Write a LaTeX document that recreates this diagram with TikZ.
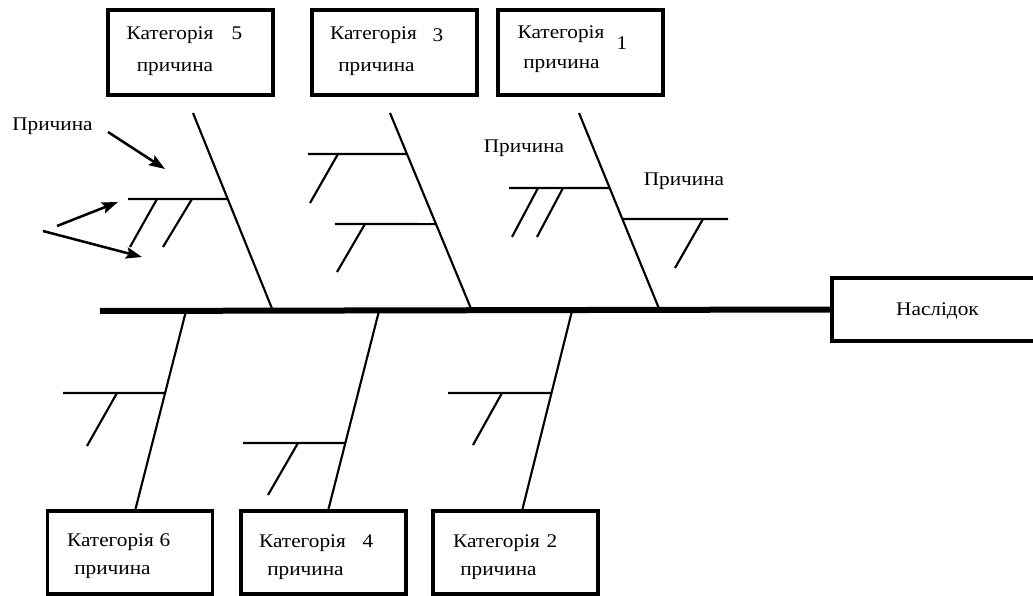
\documentclass[tikz,border=0pt]{standalone}
\usepackage{fontspec}
\setmainfont{Liberation Serif}[FakeStretch=1.1]
\usetikzlibrary{arrows.meta,calc}
\begin{document}
\begin{tikzpicture}[x=0.75pt,y=-0.75pt,
  catbox/.style={draw,line width=2.9pt,minimum width=123.75pt,minimum height=63.75pt,inner sep=0pt},
  effbox/.style={draw,line width=2.4pt,minimum width=153pt,minimum height=47.25pt,inner sep=0pt,font=\fontsize{14}{16}\selectfont},
  lbl/.style={inner sep=0pt,anchor=base,font=\fontsize{14.5}{16}\selectfont},
  spine/.style={line width=4.5pt},
  bone/.style={line width=1.6pt},
  arr/.style={line width=1.9pt,-{Stealth[length=12pt,width=8.5pt,inset=2pt]}}]
\useasboundingbox (0,0) rectangle (1033,596);
\clip (0,0) rectangle (1033,596);

% boxes
\node[catbox] (c5) at (190.5,52.5) {};
\node[catbox] (c3) at (394.5,52.5) {};
\node[catbox] (c1) at (580.5,52.5) {};
\node[catbox,minimum height=62.25pt] (c6) at (130,552.5) {};
\node[catbox,minimum height=62.25pt] (c4) at (323.5,552.5) {};
\node[catbox,minimum height=62.25pt] (c2) at (515.5,552.5) {};
\node[effbox] (eff) at (934,309.5) {};
\node[lbl] (effT) at (937.5,315) {Наслідок};

% texts in top boxes
\node[lbl] (c5a) at (170,40) {Категорія};
\node[lbl] (c5n) at (237,40) {5};
\node[lbl] (c5b) at (175,71) {причина};
\node[lbl] (c3a) at (373.5,40) {Категорія};
\node[lbl] (c3n) at (438,41) {3};
\node[lbl] (c3b) at (376.5,71) {причина};
\node[lbl] (c1a) at (561,38) {Категорія};
\node[lbl] (c1n) at (622,49) {1};
\node[lbl] (c1b) at (561.5,68) {причина};
% texts in bottom boxes
\node[lbl] (c6a) at (110.5,546) {Категорія};
\node[lbl] (c6n) at (165,546) {6};
\node[lbl] (c6b) at (112.5,574) {причина};
\node[lbl] (c4a) at (302.5,547) {Категорія};
\node[lbl] (c4n) at (368,547) {4};
\node[lbl] (c4b) at (305.5,575) {причина};
\node[lbl] (c2a) at (496.5,547) {Категорія};
\node[lbl] (c2n) at (552,547) {2};
\node[lbl] (c2b) at (498.5,575) {причина};

% cause labels
\node[lbl] (p1) at (52.5,130) {Причина};
\node[lbl] (p2) at (524,152) {Причина};
\node[lbl] (p3) at (684,185) {Причина};

% spine
\coordinate (sL) at (100,311);
\draw[spine] (sL) -- (eff.west);

% top bones
\coordinate (b5t) at (193,113); \coordinate (b5b) at (273,311);
\coordinate (b3t) at (390,113); \coordinate (b3b) at (472,311);
\coordinate (b1t) at (579,113); \coordinate (b1b) at (660,311);
\draw[bone] (b5t) -- (b5b);
\draw[bone] (b3t) -- (b3b);
\draw[bone] (b1t) -- (b1b);
% bottom bones
\coordinate (b6t) at (186,311); \coordinate (b6b) at (135,511);
\coordinate (b4t) at (379,311); \coordinate (b4b) at (328,511);
\coordinate (b2t) at (572,311); \coordinate (b2b) at (522,511);
\draw[bone] (b6t) -- (b6b);
\draw[bone] (b4t) -- (b4b);
\draw[bone] (b2t) -- (b2b);

% sub-bones, category 5
\coordinate (s5) at ($(b5t)!0.434!(b5b)$);
\draw[bone] (s5) -- (128,199);
\draw[bone] (157,199) -- (130,247);
\draw[bone] (192,199) -- (163,247);
% category 3
\coordinate (s3a) at ($(b3t)!0.207!(b3b)$);
\coordinate (s3b) at ($(b3t)!0.561!(b3b)$);
\draw[bone] (s3a) -- (308,154);
\draw[bone] (338,154) -- (310,203);
\draw[bone] (s3b) -- (335,224);
\draw[bone] (365,224) -- (337,272);
% category 1
\coordinate (s1a) at ($(b1t)!0.379!(b1b)$);
\coordinate (s1b) at ($(b1t)!0.535!(b1b)$);
\draw[bone] (s1a) -- (509,188);
\draw[bone] (538,188) -- (512,237);
\draw[bone] (563,188) -- (537,237);
\draw[bone] (s1b) -- (728,219);
\draw[bone] (703,219) -- (675,268);
% category 6
\coordinate (s6) at ($(b6t)!0.41!(b6b)$);
\draw[bone] (s6) -- (63,393);
\draw[bone] (117,393) -- (87,446);
% category 4
\coordinate (s4) at ($(b4t)!0.66!(b4b)$);
\draw[bone] (s4) -- (243,443);
\draw[bone] (298,443) -- (268,495);
% category 2
\coordinate (s2) at ($(b2t)!0.41!(b2b)$);
\draw[bone] (s2) -- (448,393);
\draw[bone] (502,393) -- (473,445);

% arrows
\coordinate (a1s) at (108,132); \coordinate (a1e) at (165,169);
\coordinate (a2s) at (57,226);  \coordinate (a2e) at (118,202);
\coordinate (a3s) at (43,231);  \coordinate (a3e) at (142,257);
\draw[arr] (a1s) -- (a1e);
\draw[arr] (a2s) -- (a2e);
\draw[arr] (a3s) -- (a3e);
\end{tikzpicture}
\end{document}
